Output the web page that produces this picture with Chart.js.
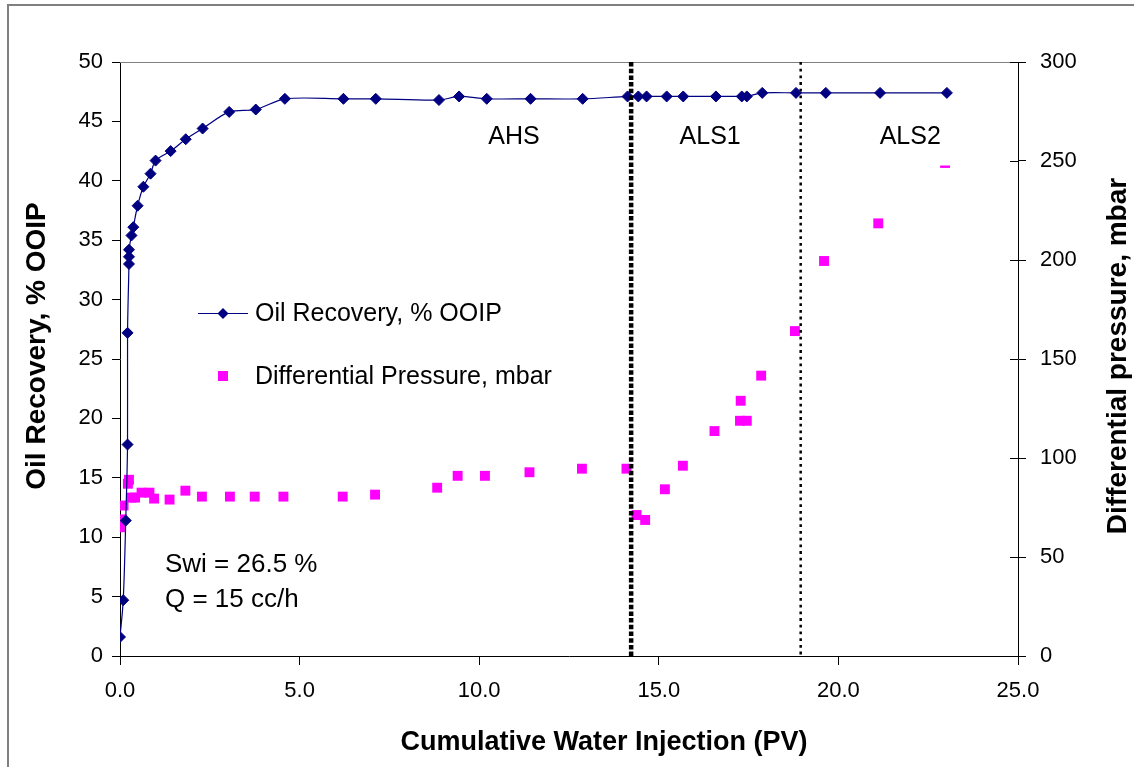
<!DOCTYPE html>
<html>
<head>
<meta charset="utf-8">
<script src="https://cdn.jsdelivr.net/npm/chart.js@4.4.0/dist/chart.umd.min.js"></script>
<style>
  html, body { margin: 0; padding: 0; background: #fff; }
</style>
</head>
<body>
<canvas id="recovery-chart" width="1134" height="767"></canvas>
<script>
// Oil recovery vs cumulative water injection
const oilPV  = [0.0, 0.09, 0.16, 0.21, 0.21, 0.25, 0.25, 0.25, 0.32, 0.37, 0.49, 0.65, 0.85, 0.99, 1.41, 1.83, 2.30, 3.04, 3.78, 4.59,
                6.22, 7.12, 8.88, 9.44, 10.21, 11.43, 12.88, 14.13, 14.43, 14.66, 15.22, 15.68, 16.59, 17.31, 17.45, 17.88, 18.82, 19.65, 21.16, 23.02];
const oilRec = [1.6, 4.7, 11.4, 17.8, 27.2, 33.0, 33.6, 34.2, 35.4, 36.1, 37.9, 39.5, 40.6, 41.7, 42.5, 43.5, 44.4, 45.8, 46.0, 46.9,
                46.9, 46.9, 46.8, 47.1, 46.9, 46.9, 46.9, 47.1, 47.1, 47.1, 47.1, 47.1, 47.1, 47.1, 47.1, 47.4, 47.4, 47.4, 47.4, 47.4];

// Differential pressure (mbar)
const dpPV = [0.0, 0.05, 0.10, 0.22, 0.25, 0.32, 0.42, 0.60, 0.82, 0.95, 1.38, 1.82, 2.28, 3.06, 3.75, 4.55, 6.20, 7.10,
              8.83, 9.40, 10.16, 11.40, 12.86, 14.10, 14.38, 14.62, 15.17, 15.67, 16.55, 17.28, 17.26, 17.45, 17.85, 18.79, 19.60, 21.11, 22.97];
const dp   = [65, 69, 76, 87, 89, 80, 80, 82.5, 82.5, 79.5, 79, 83.5, 80.5, 80.5, 80.5, 80.5, 80.5, 81.5,
              85, 91, 91, 92.8, 94.6, 94.6, 71.2, 68.7, 84.2, 96.1, 113.6, 128.9, 118.8, 118.8, 141.6, 164.1, 199.5, 218.5, 249];

// flooding stages
const stageBounds = [14.23, 18.95];
const stageNames  = ['AHS', 'ALS1', 'ALS2'];
const stageLabelPV = [10.97, 16.43, 22.0];

const xTicks = [0, 5, 10, 15, 20, 25];

const FONT = "'Liberation Sans', Arial, sans-serif";
const NAVY = '#000080';
const PINK = '#FF00FF';

const extras = {
  id: 'extras',
  beforeDraw(chart) {
    const ctx = chart.ctx;
    ctx.save();
    ctx.fillStyle = '#fff';
    ctx.fillRect(0, 0, chart.width, chart.height);
    // outer frame
    ctx.strokeStyle = '#808080';
    ctx.lineWidth = 2;
    ctx.strokeRect(8, 5, chart.width + 20, chart.height + 20);
    ctx.restore();
  },
  beforeDatasetsDraw(chart) {
    const { ctx, chartArea: a } = chart;
    ctx.save();
    ctx.strokeStyle = '#808080';
    ctx.lineWidth = 1;
    ctx.beginPath();
    ctx.moveTo(a.left, a.top + 0.5);
    ctx.lineTo(a.right, a.top + 0.5);
    ctx.stroke();
    // right axis ticks also go inwards
    const y1 = chart.scales.y1;
    ctx.strokeStyle = '#000';
    ctx.beginPath();
    y1.ticks.forEach(t => {
      const py = Math.round(y1.getPixelForValue(t.value)) + 0.5;
      ctx.moveTo(a.right - 8, py);
      ctx.lineTo(a.right, py);
    });
    ctx.stroke();
    ctx.restore();
  },
  afterDatasetsDraw(chart) {
    const { ctx, chartArea: a } = chart;
    const x = chart.scales.x;
    ctx.save();

    // stage boundaries
    const styles = [{ w: 4.5, dash: [4.5, 2.2] }, { w: 2.5, dash: [2.8, 3.9] }];
    stageBounds.forEach((pv, i) => {
      const px = x.getPixelForValue(pv);
      ctx.strokeStyle = '#000';
      ctx.lineWidth = styles[i].w;
      ctx.setLineDash(styles[i].dash);
      ctx.beginPath();
      ctx.moveTo(px, a.top);
      ctx.lineTo(px, a.bottom);
      ctx.stroke();
    });
    ctx.setLineDash([]);

    // stage labels
    ctx.font = '25px ' + FONT;
    ctx.textAlign = 'center';
    ctx.textBaseline = 'middle';
    stageNames.forEach((name, i) => {
      const px = x.getPixelForValue(stageLabelPV[i]);
      if (i === 2) {
        ctx.fillStyle = '#fff';
        ctx.fillRect(px - 40, 118, 80, 47.5);
      }
      ctx.fillStyle = '#000';
      ctx.fillText(name, px, 137);
    });

    // legend inside plot
    ctx.strokeStyle = NAVY;
    ctx.lineWidth = 1.2;
    ctx.beginPath();
    ctx.moveTo(198, 313.5);
    ctx.lineTo(248, 313.5);
    ctx.stroke();
    ctx.fillStyle = NAVY;
    ctx.beginPath();
    ctx.moveTo(223 - 5.5, 313.5);
    ctx.lineTo(223, 308);
    ctx.lineTo(223 + 5.5, 313.5);
    ctx.lineTo(223, 319);
    ctx.closePath();
    ctx.fill();
    ctx.fillStyle = PINK;
    ctx.fillRect(218, 371, 10, 10);

    ctx.fillStyle = '#000';
    ctx.textAlign = 'left';
    ctx.font = '25px ' + FONT;
    ctx.fillText('Oil Recovery, % OOIP', 255, 314);
    ctx.fillText('Differential Pressure, mbar', 255, 377);

    // test conditions
    ctx.font = '26px ' + FONT;
    ctx.fillText('Swi = 26.5 %', 165, 565);
    ctx.fillText('Q = 15 cc/h', 165, 600);

    // axis titles
    ctx.font = 'bold 27px ' + FONT;
    ctx.textAlign = 'center';
    ctx.fillText('Cumulative Water Injection (PV)', 604, 743);

    ctx.font = 'bold 28px ' + FONT;
    ctx.save();
    ctx.translate(37, 346);
    ctx.rotate(-Math.PI / 2);
    ctx.fillText('Oil Recovery, % OOIP', 0, 0);
    ctx.restore();

    ctx.save();
    ctx.translate(1118, 356);
    ctx.rotate(-Math.PI / 2);
    ctx.fillText('Differential pressure, mbar', 0, 0);
    ctx.restore();

    ctx.restore();
  }
};

const ctx = document.getElementById('recovery-chart').getContext('2d');
new Chart(ctx, {
  type: 'scatter',
  data: {
    datasets: [
      {
        label: 'Oil Recovery, % OOIP',
        data: oilPV.map((v, i) => ({ x: v, y: oilRec[i] })),
        showLine: true,
        tension: 0.3,
        borderColor: NAVY,
        borderWidth: 1.2,
        backgroundColor: NAVY,
        pointStyle: 'rectRot',
        pointRadius: 5.5,
        pointBorderWidth: 1,
        yAxisID: 'y',
        order: 1
      },
      {
        label: 'Differential Pressure, mbar',
        data: dpPV.map((v, i) => ({ x: v, y: dp[i] })),
        showLine: false,
        borderColor: PINK,
        backgroundColor: PINK,
        pointStyle: 'rect',
        pointRadius: 7,
        pointBorderWidth: 0,
        yAxisID: 'y1',
        order: 2
      }
    ]
  },
  options: {
    responsive: false,
    animation: false,
    events: [],
    layout: { padding: { top: 62, left: 0, right: 0, bottom: 0 } },
    plugins: {
      legend: { display: false },
      tooltip: { enabled: false }
    },
    scales: {
      x: {
        type: 'linear',
        min: 0,
        max: 25,
        afterBuildTicks: s => { s.ticks = xTicks.map(v => ({ value: v })); },
        ticks: {
          color: '#000',
          font: { family: FONT, size: 22 },
          padding: 13,
          maxRotation: 0,
          callback: v => v.toFixed(1)
        },
        grid: { drawOnChartArea: false, tickLength: 9, color: '#000', tickColor: '#000' },
        border: { color: '#000', width: 1 },
        afterFit: s => { s.height = 767 - 656; }
      },
      y: {
        position: 'left',
        min: 0,
        max: 50,
        ticks: { stepSize: 5, color: '#000', font: { family: FONT, size: 22 }, padding: 9 },
        grid: { drawOnChartArea: false, tickLength: 8, color: '#000', tickColor: '#000' },
        border: { color: '#000', width: 1 },
        afterFit: s => { s.width = 120; }
      },
      y1: {
        position: 'right',
        min: 0,
        max: 300,
        ticks: { stepSize: 50, color: '#000', font: { family: FONT, size: 22 }, padding: 14 },
        grid: { drawOnChartArea: false, tickLength: 8, color: '#000', tickColor: '#000' },
        border: { color: '#000', width: 1 },
        afterFit: s => { s.width = 1134 - 1018; }
      }
    }
  },
  plugins: [extras]
});
</script>
</body>
</html>
